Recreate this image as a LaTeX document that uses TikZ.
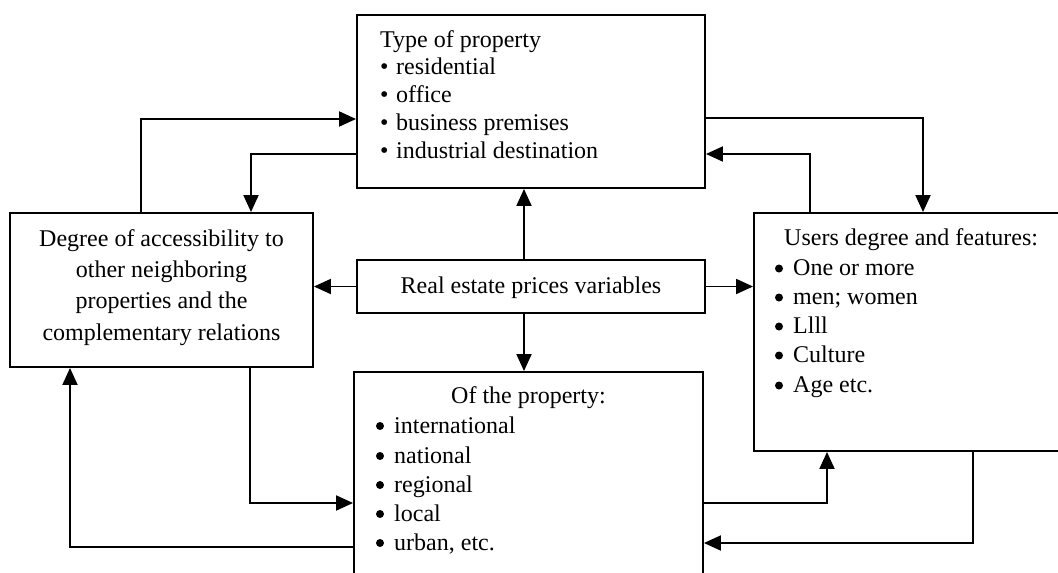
\documentclass[tikz,border=0pt]{standalone}
\usepackage{fontspec}
\setmainfont{Liberation Serif}
\usetikzlibrary{arrows.meta}
\newcommand\tbul{\makebox[16pt][l]{•}}
\begin{document}
\begin{tikzpicture}[x=1pt,y=-1pt,
  box/.style={draw,line width=1.9pt,inner sep=0pt},
  txt/.style={font=\fontsize{24}{28}\selectfont,inner sep=0pt,anchor=base west},
  ctxt/.style={font=\fontsize{24}{28}\selectfont,inner sep=0pt,anchor=base},
  arr/.style={line width=1.9pt,-{Triangle[length=17pt,width=15pt]}},
  dot/.style={fill=black}]
\useasboundingbox (0,0) rectangle (1058,573);
% boxes
\node[box,minimum width=348,minimum height=173] (top) at (531,101.5) {};
\node[box,minimum width=303,minimum height=154] (left) at (161.5,290) {};
\node[box,minimum width=320,minimum height=238] (right) at (914,332) {};
\node[box,minimum width=348,minimum height=53] (center) at (531,286.5) {};
\node[box,minimum width=349,minimum height=220] (bottom) at (528.5,482) {};
% top box text
\node[txt] (t0) at (380,47) {Type of property};
\node[txt] (t1) at (380,74) {\tbul residential};
\node[txt] (t2) at (380,102) {\tbul office};
\node[txt] (t3) at (380,130) {\tbul business premises};
\node[txt] (t4) at (380,158) {\tbul industrial destination};
% left box text
\node[ctxt] (l1) at (161.5,246) {Degree of accessibility to};
\node[ctxt] (l2) at (161.5,277) {other neighboring};
\node[ctxt] (l3) at (161.5,308) {properties and the};
\node[ctxt] (l4) at (161.5,340) {complementary relations};
% center text
\node[ctxt] (c1) at (531,293) {Real estate prices variables};
% right box text
\node[txt] (r0) at (784,245) {Users degree and features:};
\foreach \t/\yy [count=\i] in {One or more/275,men; women/304,Llll/333,Culture/362,Age etc./392}{
  \node[txt] (r\i) at (793,\yy) {\t};
  \fill[dot] (779,\yy-6.5) circle (4);
}
% bottom box text
\node[ctxt] (b0) at (528.5,403) {Of the property:};
\foreach \t/\yy [count=\i] in {international/433,national/463,regional/492,local/521,{urban, etc.}/550}{
  \node[txt] (b\i) at (394,\yy) {\t};
  \fill[dot] (380,\yy-7) circle (4);
}
% routing coordinates
\coordinate (cx) at (524,0);
\coordinate (a1) at (141,119);
\coordinate (a2) at (251,154);
\coordinate (a3) at (923,118);
\coordinate (a4) at (810,154);
\coordinate (a5) at (250,503);
\coordinate (a6) at (70,547);
\coordinate (a7) at (827,503);
\coordinate (a8) at (973,543);
% connectors
\draw[arr] (cx |- center.north) -- (cx |- top.south);
\draw[arr] (cx |- center.south) -- (cx |- bottom.north);
\draw[arr] (center.west) -- (center.west -| left.east);
\draw[arr] (center.east) -- (center.east -| right.west);
\draw[arr] (left.north -| a1) |- (top.west |- a1);
\draw[arr] (top.west |- a2) -| (a2 |- left.north);
\draw[arr] (top.east |- a3) -| (a3 |- right.north);
\draw[arr] (right.north -| a4) |- (top.east |- a4);
\draw[arr] (left.south -| a5) |- (bottom.west |- a5);
\draw[arr] (bottom.west |- a6) -| (a6 |- left.south);
\draw[arr] (bottom.east |- a7) -| (a7 |- right.south);
\draw[arr] (right.south -| a8) |- (bottom.east |- a8);
\end{tikzpicture}
\end{document}
